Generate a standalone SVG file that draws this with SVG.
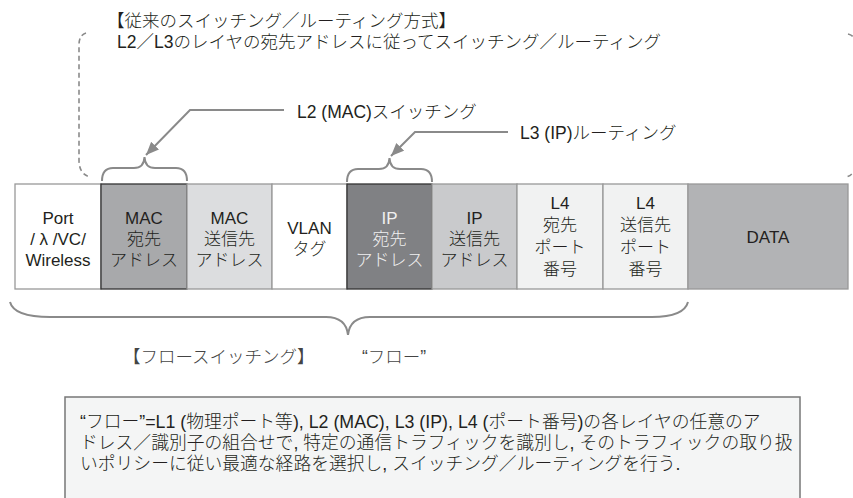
<svg xmlns="http://www.w3.org/2000/svg" width="853" height="498" viewBox="0 0 853 498">
<defs>
<style>
text{font-family:"Liberation Sans","Noto Sans CJK JP",sans-serif;font-weight:300;fill:#231f20}
.t{font-size:17.5px}
.d{font-size:17.8px}
.c{font-size:17px;text-anchor:middle}
.w{fill:#f0f0f0}
.cell{stroke:#999;stroke-width:1.3}
.dk{stroke:#333;stroke-width:1.3}
.br{fill:none;stroke:#8a8a8a;stroke-width:2}
.dash{fill:none;stroke:#8a8a8a;stroke-width:1.6;stroke-dasharray:5 3.5}
.ar{fill:none;stroke:#8a8a8a;stroke-width:2}
.g{fill:#444}
</style>
<marker id="ah" markerUnits="userSpaceOnUse" markerWidth="14" markerHeight="12" refX="13" refY="5.5" orient="auto">
<path d="M0,0 L13,5.5 L0,11 z" fill="#8a8a8a"/>
</marker>
</defs>
<rect width="853" height="498" fill="#ffffff"/>

<g id="title">
<text class="t" x="107" y="27">【従来のスイッチング／ルーティング方式】</text>
<text class="t" x="117" y="48">L2／L3のレイヤの宛先アドレスに従ってスイッチング／ルーティング</text>
</g>

<g id="legacy-bracket">
<path class="dash" d="M86,33 Q79,35 79,45 L79,160 Q79,175 91,177"/>
<path class="dash" d="M848,34 Q856,36 856,45 L856,160 Q856,175 846,177"/>
</g>

<g id="label-l2"><text class="t" x="297" y="118">L2 (MAC)スイッチング</text></g>
<g id="label-l3"><text class="t" x="520" y="139">L3 (IP)ルーティング</text></g>

<g id="connectors">
<path class="ar" d="M284,110 L190,110 L146,155" marker-end="url(#ah)"/>
<path class="ar" d="M508,132 L415,132 L391,156" marker-end="url(#ah)"/>
</g>

<g id="braces">
<path class="br" d="M102,181 Q102,168 113,168 L134,168 Q144,168 144.5,157 Q145,168 155,168 L176,168 Q187,168 187,181"/>
<path class="br" d="M347,182 Q347,169 358,169 L379,169 Q389,169 389.5,158 Q390,169 400,169 L421,169 Q432,169 432,182"/>
<path id="flow-brace" class="br" d="M10,302 Q14,317 50,317 L326,317 Q346,317 348,335 Q350,317 370,317 L652,317 Q684,317 688,302"/>
</g>

<g id="cell-port">
<rect class="cell" x="15" y="184" width="86" height="105" fill="#ffffff"/>
<text class="c" x="58" y="224">Port</text>
<text class="c" x="58" y="245">/ λ /VC/</text>
<text class="c" x="58" y="266">Wireless</text>
</g>
<g id="cell-mac-dst">
<rect class="dk" x="101" y="184" width="86" height="105" fill="#a8a9ab"/>
<text class="c" x="144" y="224">MAC</text>
<text class="c" x="144" y="245">宛先</text>
<text class="c" x="144" y="266">アドレス</text>
</g>
<g id="cell-mac-src">
<rect class="cell" x="187" y="184" width="85" height="105" fill="#dcdddf"/>
<text class="c" x="229.5" y="224">MAC</text>
<text class="c" x="229.5" y="245">送信先</text>
<text class="c" x="229.5" y="266">アドレス</text>
</g>
<g id="cell-vlan">
<rect class="cell" x="272" y="184" width="75" height="105" fill="#ffffff"/>
<text class="c" x="309.5" y="234">VLAN</text>
<text class="c" x="309.5" y="255">タグ</text>
</g>
<g id="cell-ip-dst">
<rect class="dk" x="347" y="184" width="85" height="105" fill="#808184"/>
<text class="c w" x="389.5" y="224">IP</text>
<text class="c w" x="389.5" y="245">宛先</text>
<text class="c w" x="389.5" y="266">アドレス</text>
</g>
<g id="cell-ip-src">
<rect class="cell" x="432" y="184" width="85" height="105" fill="#c9cacc"/>
<text class="c" x="474.5" y="224">IP</text>
<text class="c" x="474.5" y="245">送信先</text>
<text class="c" x="474.5" y="266">アドレス</text>
</g>
<g id="cell-l4-dst">
<rect class="cell" x="517" y="184" width="86" height="105" fill="#f1f2f2"/>
<text class="c" x="560" y="209">L4</text>
<text class="c" x="560" y="231">宛先</text>
<text class="c" x="560" y="253">ポート</text>
<text class="c" x="560" y="275">番号</text>
</g>
<g id="cell-l4-src">
<rect class="cell" x="603" y="184" width="85" height="105" fill="#f1f2f2"/>
<text class="c" x="645.5" y="209">L4</text>
<text class="c" x="645.5" y="231">送信先</text>
<text class="c" x="645.5" y="253">ポート</text>
<text class="c" x="645.5" y="275">番号</text>
</g>
<g id="cell-data">
<rect class="cell" x="688" y="184" width="160" height="105" fill="#b2b3b5"/>
<text class="c" x="768" y="243">DATA</text>
</g>

<g id="flow-labels">
<text class="t g" x="123" y="363">【フロースイッチング】</text>
<text class="t g" x="362" y="363">“フロー”</text>
</g>

<g id="definition">
<rect x="65" y="397" width="735" height="115" fill="#f4f5f5" stroke="#777" stroke-width="1.5"/>
<text class="d" x="80" y="428">“フロー”=L1 (物理ポート等), L2 (MAC), L3 (IP), L4 (ポート番号)の各レイヤの任意のア</text>
<text class="d" x="80" y="449">ドレス／識別子の組合せで, 特定の通信トラフィックを識別し, そのトラフィックの取り扱</text>
<text class="d" x="80" y="470">いポリシーに従い最適な経路を選択し, スイッチング／ルーティングを行う.</text>
</g>
</svg>
